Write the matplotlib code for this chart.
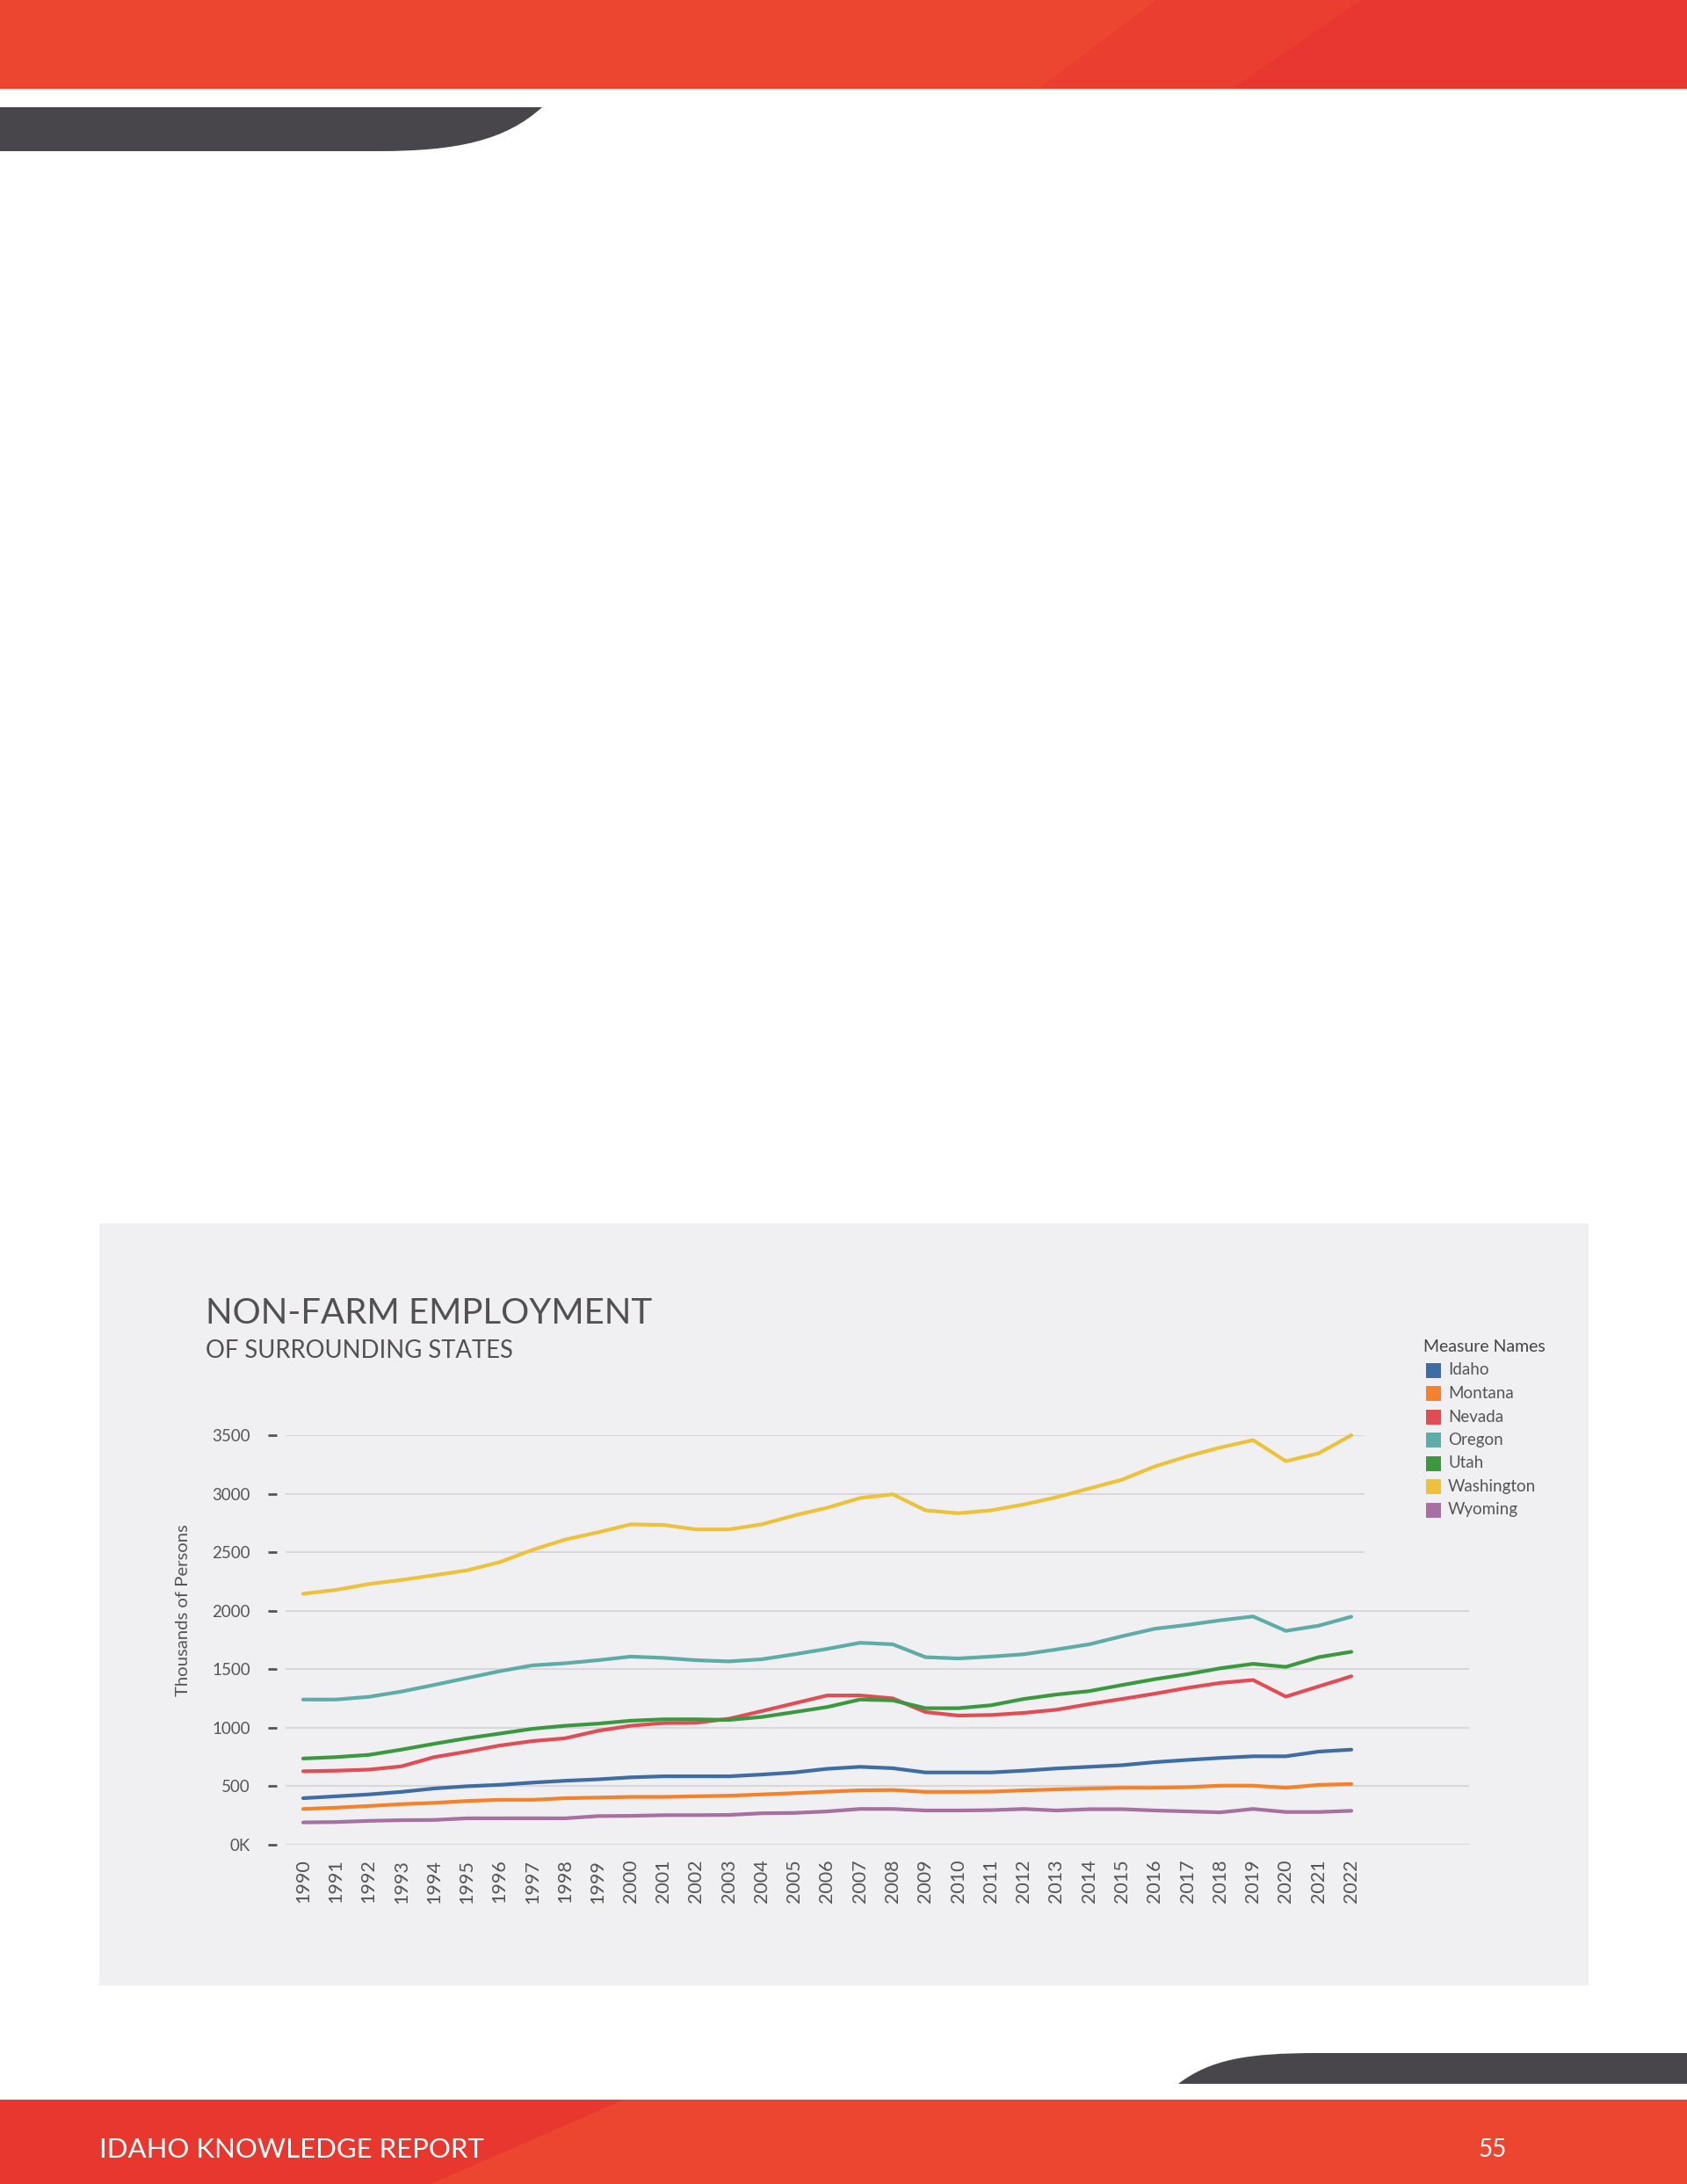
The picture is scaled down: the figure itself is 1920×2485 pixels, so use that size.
import matplotlib.pyplot as plt
from matplotlib.patches import Rectangle, Polygon, PathPatch
from matplotlib.path import Path
import matplotlib.transforms as mtransforms

plt.rcParams['font.family'] = ['Lato', 'DejaVu Sans']

# 数据（千人）
years = list(range(1990, 2023))
states = ['Idaho', 'Montana', 'Nevada', 'Oregon', 'Utah', 'Washington', 'Wyoming']
colors = ['#3E6DA6', '#F5822A', '#E14C55', '#5DACA7', '#3A993F', '#EDC13A', '#A86FA2']

idaho = [398, 414, 430, 452, 481, 500, 512, 531, 547, 559, 576, 585, 585, 585, 600, 618, 649,
         666, 654, 618, 618, 618, 633, 652, 666, 680, 706, 725, 742, 756, 756, 796, 813]
montana = [306, 317, 331, 347, 358, 374, 384, 384, 398, 403, 409, 409, 414, 419, 430, 441, 454,
           465, 468, 452, 452, 454, 465, 473, 481, 487, 487, 492, 505, 505, 487, 512, 519]
nevada = [628, 633, 642, 670, 749, 796, 848, 886, 910, 974, 1017, 1040, 1042, 1077, 1142, 1209, 1276,
          1276, 1251, 1134, 1104, 1109, 1127, 1154, 1202, 1246, 1291, 1341, 1383, 1408, 1266, 1353, 1440]
oregon = [1241, 1241, 1264, 1309, 1366, 1425, 1483, 1533, 1551, 1577, 1608, 1597, 1577, 1567, 1585, 1628, 1674,
          1726, 1713, 1603, 1592, 1608, 1628, 1669, 1713, 1782, 1846, 1879, 1918, 1951, 1828, 1872, 1949]
utah = [737, 749, 768, 813, 863, 910, 950, 991, 1017, 1035, 1060, 1072, 1072, 1067, 1092, 1134, 1177,
        1241, 1234, 1167, 1167, 1192, 1246, 1284, 1313, 1365, 1415, 1458, 1508, 1546, 1520, 1603, 1649]
washington = [2145, 2178, 2228, 2263, 2303, 2345, 2415, 2520, 2608, 2670, 2738, 2733, 2695, 2695, 2738, 2815, 2880,
              2963, 2995, 2858, 2833, 2858, 2908, 2970, 3045, 3120, 3233, 3320, 3395, 3458, 3278, 3345, 3500]
wyoming = [191, 194, 204, 210, 212, 226, 226, 226, 226, 245, 247, 253, 253, 255, 269, 272, 285,
           306, 306, 293, 293, 296, 306, 293, 304, 304, 293, 285, 277, 306, 280, 280, 290]
series = [idaho, montana, nevada, oregon, utah, washington, wyoming]

yticks = [0, 500, 1000, 1500, 2000, 2500, 3000, 3500]
ytick_labels = ['0K', '500', '1000', '1500', '2000', '2500', '3000', '3500']

W, H = 1920, 2485
fig = plt.figure(figsize=(W / 100, H / 100), dpi=100)
fig.patch.set_facecolor('white')

# 页面装饰层（像素坐标）
bg = fig.add_axes([0, 0, 1, 1])
bg.set_xlim(0, W)
bg.set_ylim(H, 0)
bg.axis('off')

bg.add_patch(Rectangle((0, 0), W, 101, color='#EC4530', lw=0))
bg.add_patch(Polygon([(1316, 0), (W, 0), (W, 101), (1182, 101)], color='#EA3F30', lw=0))
bg.add_patch(Polygon([(1549, 0), (W, 0), (W, 101), (1402, 101)], color='#E83730', lw=0))
codes = [Path.MOVETO, Path.LINETO, Path.CURVE4, Path.CURVE4, Path.CURVE4, Path.LINETO, Path.CLOSEPOLY]
verts = [(0, 122), (617, 122), (575, 160), (520, 172), (430, 172), (0, 172), (0, 122)]
bg.add_patch(PathPatch(Path(verts, codes), color='#48464B', lw=0))

bg.add_patch(Rectangle((0, 2389), W, 96, color='#EC4530', lw=0))
bg.add_patch(Polygon([(0, 2389), (710, 2389), (490, 2485), (0, 2485)], color='#E8372F', lw=0))
codes = [Path.MOVETO, Path.CURVE4, Path.CURVE4, Path.CURVE4, Path.LINETO, Path.LINETO, Path.CLOSEPOLY]
verts = [(1341, 2371), (1378, 2343), (1420, 2336), (1500, 2336), (W, 2336), (W, 2371), (1341, 2371)]
bg.add_patch(PathPatch(Path(verts, codes), color='#48464B', lw=0))
bg.text(113, 2446, 'IDAHO KNOWLEDGE REPORT', color='white', fontsize=22.4, va='center', ha='left')
bg.text(1699, 2446, '55', color='white', fontsize=20, va='center', ha='center')

# 图表面板
bg.add_patch(Rectangle((113, 1392), 1808 - 113, 2259 - 1392, color='#F0F0F2', lw=0))
bg.text(234, 1495, 'NON-FARM EMPLOYMENT', color='#525053', fontsize=29, va='center', ha='left')
bg.text(234, 1537, 'OF SURROUNDING STATES', color='#525053', fontsize=19.8, va='center', ha='left')
bg.text(208, 1832, 'Thousands of Persons', color='#555555', fontsize=14.6, rotation=90,
        va='center', ha='center')

# 图例
bg.text(1620, 1533, 'Measure Names', color='#444444', fontsize=14, va='center', ha='left')
for i, (name, c) in enumerate(zip(states, colors)):
    yc = 1559 + 26.5 * i
    bg.add_patch(Rectangle((1623, yc - 8.5), 17, 17, color=c, lw=0))
    bg.text(1648, yc, name, color='#555555', fontsize=13.5, va='center', ha='left')

# 折线图
left, right, top, bottom = 325, 1672, 1633, 2099
ax = fig.add_axes([left / W, (H - bottom) / H, (right - left) / W, (bottom - top) / H])
ax.set_facecolor('none')
px_per_year = (1538 - 345) / 32
x0 = 1990 - (345 - left) / px_per_year
x1 = 1990 + (right - 345) / px_per_year
ax.set_xlim(x0, x1)
ax.set_ylim(0, 3500)

x_short = 1990 + (1553 - 345) / px_per_year
for v in yticks:
    ax.hlines(v, x0, x_short if v >= 2500 else x1, color='#D9D7DB', lw=1.5, zorder=1)

for vals, c in zip(series, colors):
    ax.plot(years, vals, color=c, lw=3, zorder=3, clip_on=False, solid_capstyle='round')

for s in ax.spines.values():
    s.set_visible(False)

ax.set_xticks(years)
ax.set_xticklabels([str(y) for y in years], rotation=90, fontsize=15.5, color='#555555')
ax.set_yticks(yticks)
ax.set_yticklabels(ytick_labels, fontsize=13.5, color='#555555')
ax.tick_params(axis='x', length=0, pad=12)
ax.tick_params(axis='y', length=0, pad=29)

# 刻度短横线
trans = mtransforms.blended_transform_factory(ax.transAxes, ax.transData)
ax.plot([(310 - left) / (right - left)] * len(yticks), yticks, ls='none', marker='_',
        markersize=7, mew=2, color='#555555', transform=trans, clip_on=False)

plt.savefig('out.png', dpi=100)
